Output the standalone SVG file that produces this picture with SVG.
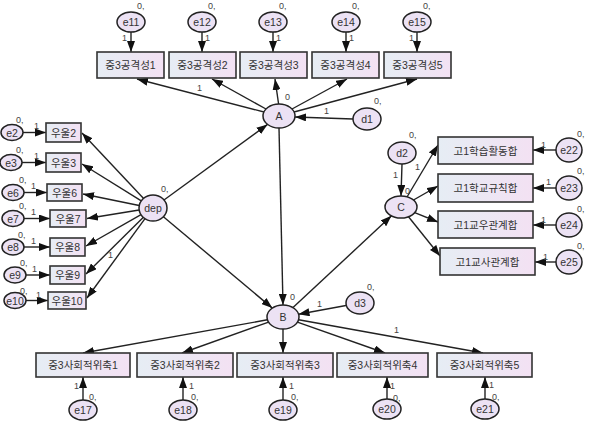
<svg xmlns="http://www.w3.org/2000/svg" width="600" height="430" viewBox="0 0 600 430">
<defs>
<linearGradient id="bx" x1="0" y1="0" x2="1" y2="0">
<stop offset="0" stop-color="#e6edf4"/>
<stop offset="1" stop-color="#f3e1f3"/>
</linearGradient>
<marker id="ah" markerUnits="userSpaceOnUse" markerWidth="11" markerHeight="8" refX="11" refY="4" orient="auto">
<path d="M0,0 L11,4 L0,8 z" fill="#111"/>
</marker>
</defs>
<style>
.box{fill:url(#bx);stroke:#333;stroke-width:1.6}
.el{fill:#ece2f4;stroke:#222;stroke-width:1.5}
.t{font-family:"Liberation Sans","Noto Sans CJK KR",sans-serif;font-size:10.5px;fill:#333;text-anchor:middle;dominant-baseline:central}
.lb{font-family:"Liberation Sans",sans-serif;font-size:9px;fill:#444}
.c line{stroke:#222;stroke-width:1.4;marker-end:url(#ah)}
</style>
<rect width="600" height="430" fill="#fff"/>

<g class="c" id="connectors">
<!-- e -> top boxes -->
<line x1="131" y1="32" x2="131" y2="52"/>
<line x1="202" y1="32" x2="202" y2="52"/>
<line x1="273" y1="32" x2="273" y2="52"/>
<line x1="346" y1="32" x2="346" y2="52"/>
<line x1="417" y1="32" x2="417" y2="52"/>
<!-- A -> top boxes -->
<line x1="264" y1="112" x2="137" y2="79"/>
<line x1="266" y1="109" x2="212" y2="79"/>
<line x1="278.6" y1="104" x2="275" y2="79"/>
<line x1="292" y1="109" x2="347" y2="79"/>
<line x1="294" y1="112" x2="417" y2="79"/>
<!-- d1 -> A -->
<line x1="353" y1="119" x2="295" y2="117"/>
<!-- dep -> A, dep -> B, A -> B -->
<line x1="164" y1="200" x2="267.5" y2="124.4"/>
<line x1="163.4" y1="216.7" x2="272.3" y2="308.1"/>
<line x1="279" y1="128" x2="283" y2="305"/>
<!-- B -> C -->
<line x1="293" y1="307.6" x2="391.5" y2="215.8"/>
<!-- d2 -> C -->
<line x1="402" y1="164" x2="401" y2="196"/>
<!-- C -> right boxes -->
<line x1="407" y1="197" x2="438" y2="145"/>
<line x1="413.5" y1="200" x2="438" y2="186"/>
<line x1="414.7" y1="212.7" x2="438" y2="222"/>
<line x1="408.5" y1="216.7" x2="440" y2="256"/>
<!-- e22..e25 -->
<line x1="556" y1="150" x2="533" y2="150"/>
<line x1="556" y1="188" x2="533" y2="188"/>
<line x1="556" y1="225" x2="533" y2="225"/>
<line x1="556" y1="262" x2="535" y2="262"/>
<!-- d3 -> B -->
<line x1="346" y1="305.5" x2="298.5" y2="314.2"/>
<!-- B -> bottom boxes -->
<line x1="267.4" y1="319.8" x2="83" y2="353"/>
<line x1="268.6" y1="322.1" x2="182" y2="353"/>
<line x1="283" y1="329" x2="283" y2="353"/>
<line x1="297.4" y1="322.1" x2="385" y2="353"/>
<line x1="298.6" y1="319.8" x2="483" y2="353"/>
<!-- e17..e21 -->
<line x1="83" y1="400" x2="83" y2="377"/>
<line x1="183" y1="400" x2="183" y2="377"/>
<line x1="283" y1="400" x2="283" y2="377"/>
<line x1="387" y1="399" x2="387" y2="377"/>
<line x1="485" y1="399" x2="485" y2="377"/>
<!-- dep -> left boxes -->
<line x1="143.6" y1="198.4" x2="82" y2="133"/>
<line x1="141.3" y1="200.9" x2="82" y2="164"/>
<line x1="139.2" y1="205.5" x2="83" y2="194"/>
<line x1="139.2" y1="210" x2="87" y2="218.5"/>
<line x1="141" y1="214.6" x2="86" y2="246"/>
<line x1="143.4" y1="217.3" x2="86" y2="274"/>
<line x1="145" y1="218.6" x2="87" y2="298"/>
<!-- e -> left boxes -->
<line x1="23" y1="132.5" x2="46" y2="132.5"/>
<line x1="22" y1="162.5" x2="46" y2="162.5"/>
<line x1="24" y1="192.5" x2="47" y2="192.5"/>
<line x1="24" y1="218.5" x2="50" y2="218.5"/>
<line x1="24" y1="247" x2="50" y2="247"/>
<line x1="26" y1="275" x2="50" y2="275"/>
<line x1="26" y1="300.5" x2="48" y2="300.5"/>
</g>

<!-- top observed -->
<g id="n_a1"><rect class="box" x="97" y="52" width="67" height="26"/><text class="t" x="130.5" y="65">중3공격성1</text></g>
<g id="n_a2"><rect class="box" x="169" y="52" width="67" height="26"/><text class="t" x="202.5" y="65">중3공격성2</text></g>
<g id="n_a3"><rect class="box" x="240" y="52" width="67" height="26"/><text class="t" x="273.5" y="65">중3공격성3</text></g>
<g id="n_a4"><rect class="box" x="312" y="52" width="67" height="26"/><text class="t" x="345.5" y="65">중3공격성4</text></g>
<g id="n_a5"><rect class="box" x="384" y="52" width="67" height="26"/><text class="t" x="417.5" y="65">중3공격성5</text></g>

<g id="n_e11"><ellipse class="el" cx="131" cy="22" rx="14" ry="10"/><text class="t" x="131" y="22">e11</text></g>
<g id="n_e12"><ellipse class="el" cx="202" cy="22" rx="14" ry="10"/><text class="t" x="202" y="22">e12</text></g>
<g id="n_e13"><ellipse class="el" cx="273" cy="22" rx="14" ry="10"/><text class="t" x="273" y="22">e13</text></g>
<g id="n_e14"><ellipse class="el" cx="346" cy="22" rx="14" ry="10"/><text class="t" x="346" y="22">e14</text></g>
<g id="n_e15"><ellipse class="el" cx="417" cy="22" rx="14" ry="10"/><text class="t" x="417" y="22">e15</text></g>

<!-- latents -->
<g id="n_A"><ellipse class="el" cx="279" cy="116" rx="16" ry="12"/><text class="t" x="279" y="116">A</text></g>
<g id="n_d1"><ellipse class="el" cx="367" cy="119" rx="14" ry="11"/><text class="t" x="367" y="119">d1</text></g>
<g id="n_dep"><ellipse class="el" cx="153" cy="208" rx="14" ry="13"/><text class="t" x="153" y="208">dep</text></g>
<g id="n_B"><ellipse class="el" cx="283" cy="317" rx="16" ry="12"/><text class="t" x="283" y="317">B</text></g>
<g id="n_d3"><ellipse class="el" cx="360" cy="303" rx="14" ry="11"/><text class="t" x="360" y="303">d3</text></g>
<g id="n_C"><ellipse class="el" cx="401" cy="207" rx="16" ry="11"/><text class="t" x="401" y="207">C</text></g>
<g id="n_d2"><ellipse class="el" cx="402" cy="153" rx="14" ry="11"/><text class="t" x="402" y="153">d2</text></g>

<!-- right observed -->
<g id="n_c1"><rect class="box" x="438" y="137" width="95" height="27"/><text class="t" x="485.5" y="150.5">고1학습활동합</text></g>
<g id="n_c2"><rect class="box" x="438" y="174" width="95" height="28"/><text class="t" x="485.5" y="188">고1학교규칙합</text></g>
<g id="n_c3"><rect class="box" x="438" y="211" width="95" height="27"/><text class="t" x="485.5" y="224.5">고1교우관계합</text></g>
<g id="n_c4"><rect class="box" x="440" y="248" width="95" height="27"/><text class="t" x="487.5" y="261.5">고1교사관계합</text></g>
<g id="n_e22"><ellipse class="el" cx="569" cy="150" rx="13" ry="12"/><text class="t" x="569" y="150">e22</text></g>
<g id="n_e23"><ellipse class="el" cx="569" cy="188" rx="13" ry="12"/><text class="t" x="569" y="188">e23</text></g>
<g id="n_e24"><ellipse class="el" cx="569" cy="225" rx="13" ry="12"/><text class="t" x="569" y="225">e24</text></g>
<g id="n_e25"><ellipse class="el" cx="569" cy="262" rx="13" ry="12"/><text class="t" x="569" y="262">e25</text></g>

<!-- bottom observed -->
<g id="n_b1"><rect class="box" x="36" y="353" width="94" height="24"/><text class="t" x="83" y="365">중3사회적위축1</text></g>
<g id="n_b2"><rect class="box" x="137" y="353" width="96" height="24"/><text class="t" x="185" y="365">중3사회적위축2</text></g>
<g id="n_b3"><rect class="box" x="237" y="353" width="96" height="24"/><text class="t" x="285" y="365">중3사회적위축3</text></g>
<g id="n_b4"><rect class="box" x="337" y="353" width="91" height="24"/><text class="t" x="382.5" y="365">중3사회적위축4</text></g>
<g id="n_b5"><rect class="box" x="437" y="353" width="95" height="24"/><text class="t" x="484.5" y="365">중3사회적위축5</text></g>
<g id="n_e17"><ellipse class="el" cx="83" cy="410" rx="14" ry="10"/><text class="t" x="83" y="410">e17</text></g>
<g id="n_e18"><ellipse class="el" cx="183" cy="410" rx="14" ry="10"/><text class="t" x="183" y="410">e18</text></g>
<g id="n_e19"><ellipse class="el" cx="283" cy="410" rx="14" ry="10"/><text class="t" x="283" y="410">e19</text></g>
<g id="n_e20"><ellipse class="el" cx="387" cy="409" rx="14" ry="10"/><text class="t" x="387" y="409">e20</text></g>
<g id="n_e21"><ellipse class="el" cx="485" cy="409" rx="14" ry="10"/><text class="t" x="485" y="409">e21</text></g>

<!-- left observed -->
<g id="n_u2"><rect class="box" x="46" y="123" width="35" height="19"/><text class="t" x="63.5" y="132.5">우울2</text></g>
<g id="n_u3"><rect class="box" x="46" y="153" width="35" height="19"/><text class="t" x="63.5" y="162.5">우울3</text></g>
<g id="n_u6"><rect class="box" x="47" y="184" width="35" height="17"/><text class="t" x="64.5" y="192.5">우울6</text></g>
<g id="n_u7"><rect class="box" x="50" y="210" width="36" height="17"/><text class="t" x="68" y="218.5">우울7</text></g>
<g id="n_u8"><rect class="box" x="50" y="238" width="35" height="18"/><text class="t" x="67.5" y="247">우울8</text></g>
<g id="n_u9"><rect class="box" x="50" y="266" width="35" height="18"/><text class="t" x="67.5" y="275">우울9</text></g>
<g id="n_u10"><rect class="box" x="48" y="292" width="38" height="17"/><text class="t" x="67" y="300.5">우울10</text></g>
<g id="n_e2"><ellipse class="el" cx="12" cy="132.5" rx="11" ry="8"/><text class="t" x="12" y="132.5">e2</text></g>
<g id="n_e3"><ellipse class="el" cx="11" cy="162.5" rx="11" ry="8"/><text class="t" x="11" y="162.5">e3</text></g>
<g id="n_e6"><ellipse class="el" cx="13" cy="192.5" rx="11" ry="8"/><text class="t" x="13" y="192.5">e6</text></g>
<g id="n_e7"><ellipse class="el" cx="13" cy="218.5" rx="11" ry="8"/><text class="t" x="13" y="218.5">e7</text></g>
<g id="n_e8"><ellipse class="el" cx="13" cy="247" rx="11" ry="8"/><text class="t" x="13" y="247">e8</text></g>
<g id="n_e9"><ellipse class="el" cx="15" cy="275" rx="11" ry="8"/><text class="t" x="15" y="275">e9</text></g>
<g id="n_e10"><ellipse class="el" cx="15" cy="300.5" rx="11" ry="8"/><text class="t" x="15" y="300.5">e10</text></g>

<!-- labels -->
<g id="labels" class="lb">
<text x="137" y="9">0,</text><text x="208" y="9">0,</text><text x="279" y="9">0,</text><text x="352" y="9">0,</text><text x="423" y="9">0,</text>
<text x="122" y="41">1</text><text x="205" y="41">1</text><text x="276" y="41">1</text><text x="349" y="41">1</text><text x="409" y="41">1</text>
<text x="197" y="91">1</text><text x="285" y="100">0</text>
<text x="374" y="104">0,</text><text x="324" y="114">1</text>
<text x="161" y="192">0,</text>
<text x="409" y="138">0,</text><text x="393" y="178">1</text><text x="405" y="194">0</text><text x="415" y="170">1</text>
<text x="577" y="137">0,</text><text x="577" y="174">0,</text><text x="577" y="212">0,</text><text x="577" y="249">0,</text>
<text x="541" y="148">1</text><text x="546" y="185">1</text><text x="541" y="223">1</text><text x="543" y="260">1</text>
<text x="290" y="300">0</text><text x="367" y="290">0,</text><text x="317" y="307">1</text>
<text x="394" y="333">1</text>
<text x="74" y="389">1</text><text x="89" y="400">0,</text>
<text x="189" y="389">1</text><text x="191" y="400">0,</text>
<text x="289" y="389">1</text><text x="291" y="400">0,</text>
<text x="390" y="389">1</text><text x="393" y="401">0,</text>
<text x="489" y="388">1</text><text x="492" y="400">0,</text>
<text x="16" y="123">0,</text><text x="34" y="129">1</text>
<text x="16" y="153">0,</text><text x="34" y="159">1</text>
<text x="19" y="183">0,</text><text x="31" y="189">1</text>
<text x="19" y="209">0,</text><text x="31" y="215">1</text>
<text x="18" y="238">0,</text><text x="31" y="244">1</text>
<text x="20" y="266">0,</text><text x="32" y="272">1</text>
<text x="20" y="294">0,</text><text x="36" y="298">1</text>
<text x="108" y="258">1</text>
</g>
</svg>
